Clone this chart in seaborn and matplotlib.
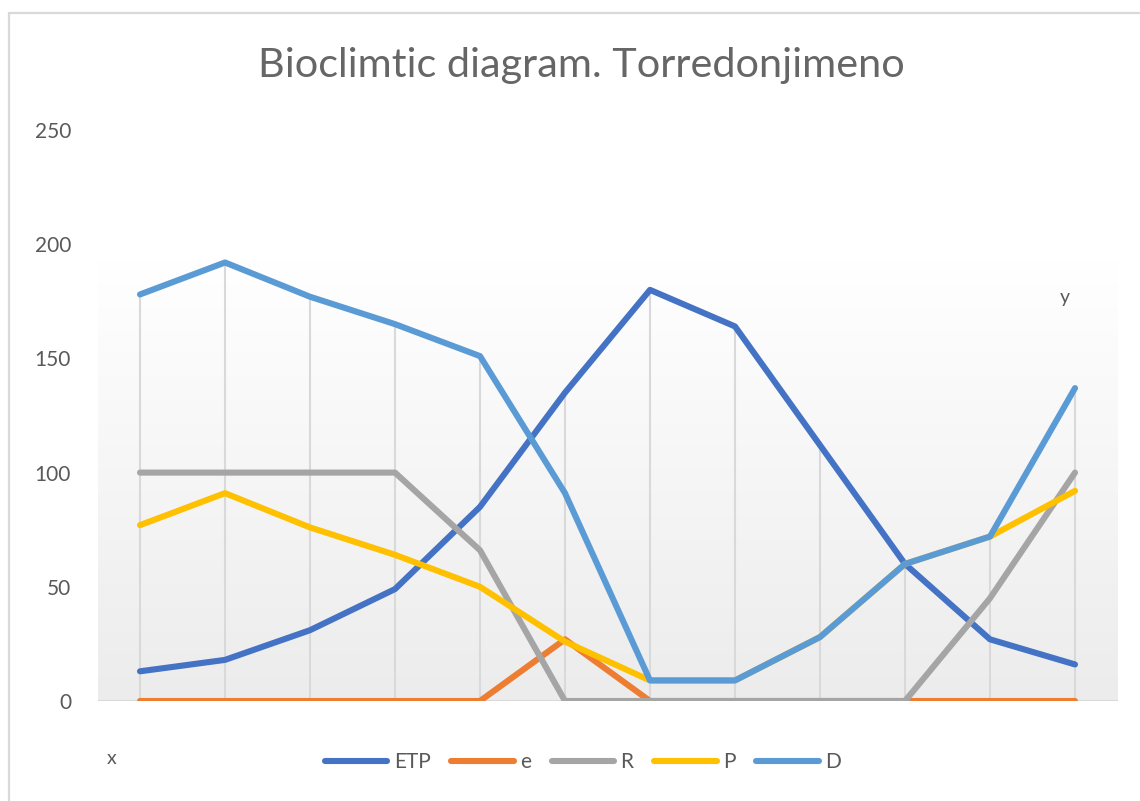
import numpy as np
import pandas as pd
import matplotlib
matplotlib.use("Agg")
import matplotlib.pyplot as plt
from matplotlib.colors import LinearSegmentedColormap
from matplotlib.patches import Rectangle
from matplotlib.lines import Line2D
import seaborn as sns

# ---- data ----
points = list(range(1, 13))
ETP = [13, 18, 31, 49, 85, 135, 180, 164, 112, 60, 27, 16]
e = [0, 0, 0, 0, 0, 27, 0, 0, 0, 0, 0, 0]
R = [100, 100, 100, 100, 66, 0, 0, 0, 0, 0, 45, 100]
P = [77, 91, 76, 64, 50, 26, 9, 9, 28, 60, 72, 92]
D = [178, 192, 177, 165, 151, 91, 9, 9, 28, 60, 72, 137]
series_names = ["ETP", "e", "R", "P", "D"]
colors = ["#4472C4", "#ED7D31", "#A5A5A5", "#FFC000", "#5B9BD5"]
yticks = [0, 50, 100, 150, 200, 250]
title = "Bioclimtic diagram. Torredonjimeno"

df = pd.DataFrame({"point": points * 5,
                   "value": ETP + e + R + P + D,
                   "series": sum([[n] * 12 for n in series_names], [])})

sns.set_theme(style="white")
plt.rcParams['font.family'] = ['Lato', 'DejaVu Sans']

W, H = 1140, 801
fig = plt.figure(figsize=(W / 100, H / 100), dpi=100)
fig.patch.set_facecolor("white")

# chart border
fig.patches.append(Rectangle((9 / W, -0.01), 1.2, 1 - 13 / H + 0.01, transform=fig.transFigure,
                             fill=False, edgecolor="#d9d9d9", linewidth=1.6))

left, right = 97.5 / W, 1117.5 / W
bottom, top = (H - 701) / H, (H - 130) / H
ax = fig.add_axes([left, bottom, right - left, top - bottom])
ax.set_facecolor("none")

# gradient plot area
grad = np.linspace(0, 1, 256).reshape(-1, 1)
cmap = LinearSegmentedColormap.from_list("g", ["#ececec", "#ffffff"])
ax.imshow(grad, extent=[0.5, 12.5, 0, 193], aspect="auto", cmap=cmap, origin="lower", zorder=0)

# drop lines
maxv = df.groupby("point")["value"].max()
ax.vlines(maxv.index, 0, maxv.values, color="#d9d9d9", linewidth=1.5, zorder=1)
# baseline
ax.axhline(0, color="#d9d9d9", linewidth=1.5, zorder=1)

sns.lineplot(data=df, x="point", y="value", hue="series", hue_order=series_names,
             palette=colors, linewidth=4.4, ax=ax, legend=False, zorder=3,
             solid_capstyle="round", solid_joinstyle="round")

ax.set_xlim(0.5, 12.5)
ax.set_ylim(0, 250)
ax.set_xticks([])
ax.set_yticks(yticks)
ax.set_yticklabels([str(t) for t in yticks], color="#595959", fontsize=15)
ax.tick_params(axis="y", length=0, pad=19)
ax.set_xlabel("")
ax.set_ylabel("")
for s in ax.spines.values():
    s.set_visible(False)

# title
t = fig.text(581 / W, 1 - 66 / H, title, ha="center", va="center", color="#666666", fontsize=27)
fig.canvas.draw()
bb = t.get_window_extent()
t.set_fontsize(27 * 648 / bb.width)

fig.text(112 / W, 1 - 758 / H, "x", ha="center", va="center", color="#595959", fontsize=14)
fig.text(1065 / W, 1 - 298 / H, "y", ha="center", va="center", color="#595959", fontsize=14)

handles = [Line2D([], [], color=c, linewidth=4.4, solid_capstyle="round") for c in colors]
fig.legend(handles, series_names, loc="center", bbox_to_anchor=(583 / W, 1 - 762 / H), ncol=5,
           frameon=False, handlelength=3.0, handletextpad=0.3, columnspacing=1.0,
           fontsize=15, labelcolor="#595959")

fig.savefig("out.png", dpi=100)
